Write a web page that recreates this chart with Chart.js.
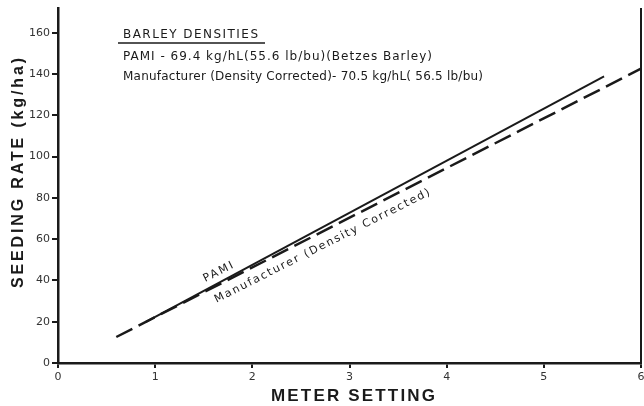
<!DOCTYPE html>
<html>
<head>
<meta charset="utf-8">
<script src="https://cdn.jsdelivr.net/npm/chart.js@4.4.1/dist/chart.umd.min.js"></script>
<style>
  html, body { margin: 0; padding: 0; background: #fff; }
  #wrap { width: 644px; height: 406px; }
</style>
</head>
<body>
<div id="wrap"><canvas id="seedChart"></canvas></div>
<script>
// meter setting vs seeding rate (kg/ha), barley
var meterPami = [0.9, 5.62];
var ratePami = [19.8, 138.9];
var meterMfr = [0.6, 6.0];
var rateMfr = [12.6, 142.6];
var yTicks = [0, 20, 40, 60, 80, 100, 120, 140, 160];

var ink = '#1a1a1a';

// draw text stretched to a given width with letter spacing
function fitText(ctx, text, cx, cy, width) {
  ctx.letterSpacing = '0px';
  var w = ctx.measureText(text).width;
  var sp = (width - w) / (text.length - 1);
  ctx.letterSpacing = sp + 'px';
  ctx.textAlign = 'left';
  ctx.fillText(text, cx - width / 2, cy);
  ctx.letterSpacing = '0px';
}

var notes = {
  id: 'notes',
  afterDraw: function(chart) {
    var ctx = chart.ctx, a = chart.chartArea;
    var x = chart.scales.x, y = chart.scales.y;
    ctx.save();
    // right frame
    ctx.strokeStyle = ink;
    ctx.lineWidth = 2;
    ctx.beginPath();
    ctx.moveTo(a.right, a.top);
    ctx.lineTo(a.right, a.bottom);
    ctx.stroke();

    ctx.fillStyle = ink;
    ctx.textBaseline = 'middle';

    // axis titles
    ctx.font = 'bold 17px "Liberation Sans"';
    fitText(ctx, 'METER SETTING', 353, 396, 164);
    ctx.save();
    ctx.translate(19, 173);
    ctx.rotate(-Math.PI / 2);
    ctx.font = 'bold 16px "Liberation Sans"';
    fitText(ctx, 'SEEDING RATE (kg/ha)', 0, 0, 230);
    ctx.restore();

    // densities box
    ctx.font = '12px "DejaVu Sans"';
    fitText(ctx, 'BARLEY DENSITIES', 190.5, 34.5, 135);
    ctx.lineWidth = 1.5;
    ctx.beginPath();
    ctx.moveTo(118, 43);
    ctx.lineTo(265, 43);
    ctx.stroke();
    fitText(ctx, 'PAMI - 69.4 kg/hL(55.6 lb/bu)(Betzes Barley)', 277.5, 57, 309);
    fitText(ctx, 'Manufacturer (Density Corrected)- 70.5 kg/hL( 56.5 lb/bu)', 303, 77, 360);

    // line labels
    var ang = -26.8 * Math.PI / 180;
    ctx.font = '11px "DejaVu Sans"';
    ctx.save();
    ctx.translate(x.getPixelForValue(1.65), y.getPixelForValue(44));
    ctx.rotate(ang);
    fitText(ctx, 'PAMI', 0, 0, 32);
    ctx.restore();
    ctx.save();
    ctx.translate(x.getPixelForValue(2.72), y.getPixelForValue(56.6));
    ctx.rotate(ang);
    fitText(ctx, 'Manufacturer (Density Corrected)', 0, 0, 240);
    ctx.restore();
    ctx.restore();
  }
};

var ctx = document.getElementById('seedChart');

new Chart(ctx, {
  type: 'scatter',
  data: {
    datasets: [
      {
        label: 'PAMI',
        data: meterPami.map(function(v, i) { return {x: v, y: ratePami[i]}; }),
        showLine: true,
        borderColor: ink,
        borderWidth: 2,
        pointRadius: 0
      },
      {
        label: 'Manufacturer (Density Corrected)',
        data: meterMfr.map(function(v, i) { return {x: v, y: rateMfr[i]}; }),
        showLine: true,
        borderColor: ink,
        borderWidth: 2.5,
        borderDash: [18, 7],
        pointRadius: 0
      }
    ]
  },
  options: {
    responsive: true,
    maintainAspectRatio: false,
    animation: false,
    layout: { padding: { top: 8, right: 3, left: 0, bottom: 0 } },
    plugins: {
      legend: { display: false },
      tooltip: { enabled: false }
    },
    scales: {
      x: {
        type: 'linear',
        min: 0,
        max: 6,
        ticks: { stepSize: 1, color: '#333', padding: 3, font: { family: 'DejaVu Sans', size: 11 } },
        grid: { drawOnChartArea: false, drawTicks: true, tickLength: 5, color: ink, lineWidth: 2 },
        border: { display: true, color: ink, width: 2.5 },
        afterFit: function(s) { s.height = 43; s.paddingLeft = 0; s.paddingRight = 0; }
      },
      y: {
        min: 0,
        max: 172,
        afterBuildTicks: function(s) {
          s.ticks = yTicks.map(function(v) { return {value: v}; });
        },
        ticks: { color: '#333', padding: 2, font: { family: 'DejaVu Sans', size: 11 } },
        grid: { drawOnChartArea: false, drawTicks: true, tickLength: 6, color: ink, lineWidth: 2 },
        border: { display: true, color: ink, width: 2.5 },
        afterFit: function(s) { s.width = 58; s.paddingTop = 0; s.paddingBottom = 0; }
      }
    }
  },
  plugins: [notes]
});
</script>
</body>
</html>
